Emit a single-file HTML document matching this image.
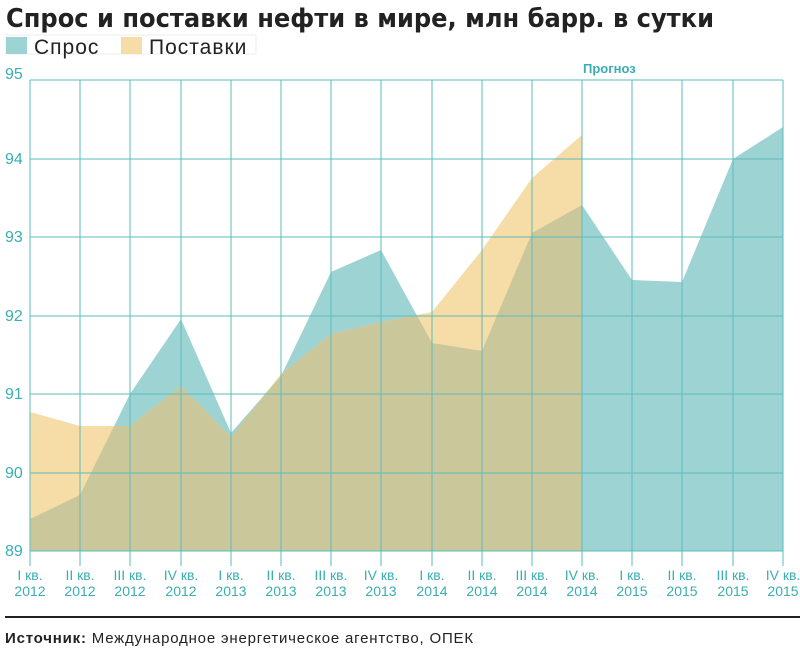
<!DOCTYPE html>
<html><head><meta charset="utf-8"><style>
body{margin:0;background:#fff;width:800px;height:656px;overflow:hidden;font-family:"Liberation Sans","DejaVu Sans",sans-serif}
</style></head><body>
<svg width="800" height="656" xmlns="http://www.w3.org/2000/svg" style="position:absolute;left:0;top:0">
<defs><clipPath id="dc"><polygon points="30,551 30,519 80,495 130,394 181,319 231,433 281,376 331,272 381,250 432,343 482,351 532,233 582,205 632,280 682,282 733,159 783,127 783,551"/></clipPath></defs>
<text x="6" y="27" font-size="26" font-weight="bold" fill="#222" font-family="DejaVu Sans, sans-serif" textLength="708" lengthAdjust="spacingAndGlyphs">Спрос и поставки нефти в мире, млн барр. в сутки</text>
<rect x="6" y="35" width="250" height="19" fill="#fff" stroke="#eee"/>
<rect x="6" y="37" width="21" height="17" fill="#9ed3d3"/>
<text x="34" y="54" font-size="21" fill="#222" letter-spacing="1">Спрос</text>
<rect x="121" y="37" width="21" height="17" fill="#f6dca6"/>
<text x="149" y="54" font-size="21" fill="#222" letter-spacing="1">Поставки</text>
<polygon fill="#9ed3d3" points="30,551 30,519 80,495 130,394 181,319 231,433 281,376 331,272 381,250 432,343 482,351 532,233 582,205 632,280 682,282 733,159 783,127 783,551"/>
<polygon fill="#f6dca6" points="30,551 30,412 80,426 130,426 181,386 231,437 281,374 331,334 381,322 432,312 482,250 532,178 582,135 582,551"/>
<polygon fill="#cac79b" clip-path="url(#dc)" points="30,551 30,412 80,426 130,426 181,386 231,437 281,374 331,334 381,322 432,312 482,250 532,178 582,135 582,551"/>
<g stroke="#5bbcbc" stroke-width="1">
<line x1="30" y1="80" x2="783" y2="80"/><line x1="30" y1="159" x2="783" y2="159"/><line x1="30" y1="237" x2="783" y2="237"/><line x1="30" y1="316" x2="783" y2="316"/><line x1="30" y1="394" x2="783" y2="394"/><line x1="30" y1="473" x2="783" y2="473"/><line x1="30" y1="551" x2="783" y2="551"/>
<line x1="30" y1="80" x2="30" y2="566"/><line x1="80" y1="80" x2="80" y2="566"/><line x1="130" y1="80" x2="130" y2="566"/><line x1="181" y1="80" x2="181" y2="566"/><line x1="231" y1="80" x2="231" y2="566"/><line x1="281" y1="80" x2="281" y2="566"/><line x1="331" y1="80" x2="331" y2="566"/><line x1="381" y1="80" x2="381" y2="566"/><line x1="432" y1="80" x2="432" y2="566"/><line x1="482" y1="80" x2="482" y2="566"/><line x1="532" y1="80" x2="532" y2="566"/><line x1="582" y1="80" x2="582" y2="566"/><line x1="632" y1="80" x2="632" y2="566"/><line x1="682" y1="80" x2="682" y2="566"/><line x1="733" y1="80" x2="733" y2="566"/><line x1="783" y1="80" x2="783" y2="566"/>
</g>
<g fill="#3aaeb0" font-size="16">
<text x="5" y="79">95</text><text x="5" y="164">94</text><text x="5" y="242">93</text><text x="5" y="321">92</text><text x="5" y="399">91</text><text x="5" y="478">90</text><text x="5" y="556">89</text>
</g>
<text x="583" y="73" fill="#3aaeb0" font-size="13" font-weight="bold">Прогноз</text>
<g fill="#3aaeb0" font-size="14" text-anchor="middle">
<text x="30" y="580">I кв.</text><text x="30" y="596">2012</text>
<text x="80" y="580">II кв.</text><text x="80" y="596">2012</text>
<text x="130" y="580">III кв.</text><text x="130" y="596">2012</text>
<text x="181" y="580">IV кв.</text><text x="181" y="596">2012</text>
<text x="231" y="580">I кв.</text><text x="231" y="596">2013</text>
<text x="281" y="580">II кв.</text><text x="281" y="596">2013</text>
<text x="331" y="580">III кв.</text><text x="331" y="596">2013</text>
<text x="381" y="580">IV кв.</text><text x="381" y="596">2013</text>
<text x="432" y="580">I кв.</text><text x="432" y="596">2014</text>
<text x="482" y="580">II кв.</text><text x="482" y="596">2014</text>
<text x="532" y="580">III кв.</text><text x="532" y="596">2014</text>
<text x="582" y="580">IV кв.</text><text x="582" y="596">2014</text>
<text x="632" y="580">I кв.</text><text x="632" y="596">2015</text>
<text x="682" y="580">II кв.</text><text x="682" y="596">2015</text>
<text x="733" y="580">III кв.</text><text x="733" y="596">2015</text>
<text x="783" y="580">IV кв.</text><text x="783" y="596">2015</text>
</g>
<rect x="5" y="616" width="795" height="2" fill="#222"/>
<text x="5" y="643" font-size="15" fill="#222" letter-spacing="0.8"><tspan font-weight="bold">Источник:</tspan>  Международное энергетическое агентство, ОПЕК</text>
</svg>
</body></html>
